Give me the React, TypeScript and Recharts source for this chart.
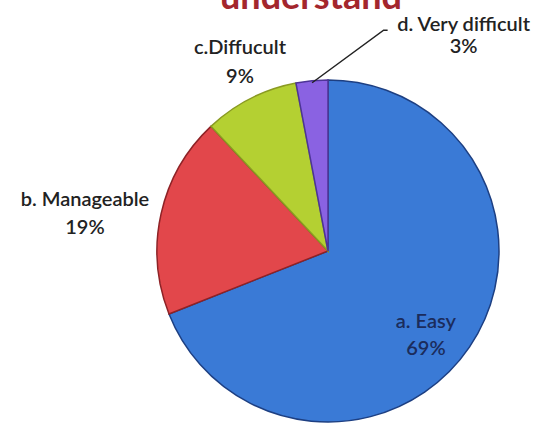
import { Cell, Pie, PieChart } from "recharts";

const names = ["a. Easy", "b. Manageable", "c.Diffucult", "d. Very difficult"];
const values = [69, 19, 9, 3];
const colors = ["#3a7ad6", "#e2474b", "#b4d032", "#8a62e2"];
const edges = ["#1d3f82", "#8e2226", "#8a9a22", "#4d3497"];
const title = "understand";

// label centre as radius/angle from the pie centre, plus the gap between its two lines
const labelSpots = [
  { r: 133, a: -42.6, gap: 27 },
  { r: 245, a: 172.7, gap: 28 },
  { r: 203, a: 115.7, gap: 29 },
  { r: 249, a: 57.0, gap: 22 },
];

const CX = 328;
const CY = 251;
const R = 171;
const RAD = Math.PI / 180;

const data = names.map((name, i) => ({ name, value: values[i] }));
const total = values.reduce((s, v) => s + v, 0);

function renderLabel(props: any) {
  const { index, midAngle } = props;
  const spot = labelSpots[index];
  const x = CX + spot.r * Math.cos(spot.a * RAD);
  const y = CY - spot.r * Math.sin(spot.a * RAD);
  const pct = `${Math.round((values[index] / total) * 100)}%`;
  const fill = index === 0 ? "#1b2c5c" : "#222";
  let leader = null;
  if (index === 3) {
    const sx = CX + (R - 2) * Math.cos(midAngle * RAD);
    const sy = CY - (R - 2) * Math.sin(midAngle * RAD);
    leader = (
      <path
        d={`M${sx},${sy} L${x - 80},${y - 12} L${x - 76},${y - 12}`}
        stroke="#222"
        strokeWidth={1.5}
        fill="none"
      />
    );
  }
  return (
    <g key={`lbl-${index}`}>
      {leader}
      <text x={x} y={y - spot.gap / 2} textAnchor="middle" fill={fill} fontSize={20} fontWeight={600} fontFamily="Lato, sans-serif">
        {names[index]}
      </text>
      <text x={x} y={y + spot.gap / 2} textAnchor="middle" fill={fill} fontSize={20} fontWeight={600} fontFamily="Lato, sans-serif">
        {pct}
      </text>
    </g>
  );
}

export default function App() {
  return (
    <div style={{ position: "absolute", left: 0, top: 0, width: 544, height: 427, background: "#fff" }}>
      <svg width={544} height={427} style={{ position: "absolute", left: 0, top: 0 }}>
        <text x={311} y={9} textAnchor="middle" fill="#a3262d" fontSize={36} fontWeight="bold" fontFamily="Lato, sans-serif">
          {title}
        </text>
      </svg>
      <div style={{ position: "absolute", left: 0, top: 0 }}>
        <PieChart width={544} height={427} margin={{ top: 0, right: 0, bottom: 0, left: 0 }}>
          <Pie
            data={data}
            dataKey="value"
            nameKey="name"
            cx={CX}
            cy={CY}
            outerRadius={R}
            startAngle={90}
            endAngle={-270}
            label={renderLabel}
            labelLine={false}
            isAnimationActive={false}
          >
            {data.map((d, i) => (
              <Cell key={d.name} fill={colors[i]} stroke={edges[i]} strokeWidth={1.5} />
            ))}
          </Pie>
        </PieChart>
      </div>
    </div>
  );
}
